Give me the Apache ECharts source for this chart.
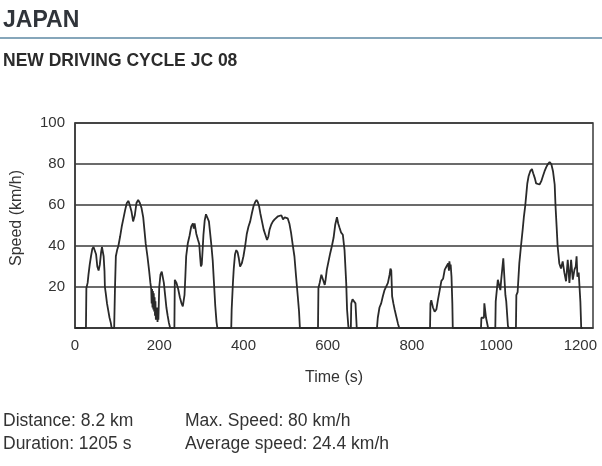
<!DOCTYPE html>
<html>
<head>
<meta charset="utf-8">
<script src="https://cdn.jsdelivr.net/npm/echarts@6/dist/echarts.min.js"></script>
<style>
  html, body { margin: 0; padding: 0; background: #fff; }
  #chart { width: 602px; height: 466px; }
</style>
</head>
<body>
<div id="chart"></div>
<script>
// JC08 speed trace (time in s, speed in km/h)
var timeS = [
  0, 26, 27, 30, 32, 35, 38, 41, 44, 47, 50, 53, 56, 59, 62, 64, 66, 68, 70, 71, 73, 76, 79, 82, 85, 87,
  93, 95, 97, 100, 103, 107, 111, 115, 119, 123, 127, 130, 134, 138, 142, 146, 150, 154, 158, 162, 165, 168, 172, 176, 179, 181,
  182, 183, 184, 185, 186, 187, 188, 189, 190, 191, 192, 193, 194, 195, 196, 197, 198, 200, 203, 206, 209, 211, 214, 217, 220, 223, 226,
  236, 237, 241, 245, 249, 253, 256, 258, 260, 262, 264, 268, 272, 276, 280, 282, 284, 288, 292, 295, 297, 299, 301, 303, 305, 308, 311, 315, 318, 321, 324, 327, 330, 333, 336, 338,
  371, 372, 375, 377, 380, 383, 386, 389, 392, 396, 400, 404, 408, 412, 416, 420, 424, 428, 431, 434, 437, 440, 444, 448, 452, 456, 459, 462, 466, 470, 474, 478, 482, 486, 490, 494, 498, 502, 505, 509, 513, 517, 521, 525, 529, 532, 534,
  577, 578, 581, 585, 589, 593, 595, 598, 602, 606, 610, 614, 618, 622, 625, 628, 632, 636, 640, 644, 646, 649, 650,
  655, 656, 659, 663, 666, 668, 669,
  717, 719, 723, 727, 731, 735, 739, 743, 747, 749, 751, 753, 756, 759, 763, 767, 770,
  843, 844, 846, 850, 854, 858, 862, 866, 870, 874, 878, 882, 886, 888, 889, 891, 892, 894, 896, 897,
  964, 965, 971, 972, 975, 976, 980, 981,
  998, 999, 1004, 1008, 1010, 1012, 1016, 1017, 1020, 1022, 1024, 1028, 1030,
  1047, 1048, 1051, 1055, 1059, 1063, 1066, 1069, 1072, 1074, 1077, 1081, 1085, 1088, 1092, 1095, 1099, 1103, 1107, 1111, 1115, 1119, 1123, 1127, 1131, 1135, 1139, 1141, 1144, 1146, 1150, 1154, 1158, 1162, 1166, 1170, 1174, 1178, 1182, 1186, 1189, 1191, 1193, 1196, 1198, 1200, 1202, 1205
];
var speedKmh = [
  0, 0, 19.5, 22, 26, 31, 35, 38.5, 39.5, 39.5, 36, 30, 28, 31, 37, 39.5, 39.5, 35, 28, 20, 17, 12, 8.5, 5, 2.5, 0,
  0, 20, 35, 38, 40, 44.5, 49.5, 53.5, 57.5, 61, 62, 60, 57, 52, 55, 61, 62.5, 61, 58.5, 54, 47.5, 41, 35, 28, 22, 19,
  12, 19, 10, 18, 9, 17, 8, 15, 6, 13, 4, 10, 4, 8, 3, 10, 4, 20, 26, 27.5, 27, 22, 16, 10, 6, 2.5, 0,
  0, 23.5, 22, 19, 15, 12, 10.5, 11, 16, 25, 35, 41.5, 45, 49.5, 51, 48.5, 51, 46, 43, 41, 35, 30, 31, 38, 45.5, 52.5, 55.5, 56, 52, 46, 40, 33, 22, 11, 3, 0,
  0, 9, 22, 29, 36, 38, 37, 34, 30, 31.5, 35, 40, 46, 49.5, 52, 56, 59.5, 61.5, 62.5, 61.5, 59.5, 56, 52, 48, 45.5, 43, 44.5, 48, 50.5, 52, 53, 53.5, 54.5, 54, 55, 53, 54, 54.5, 53.5, 51, 46.5, 40.5, 35, 25, 15.5, 8, 0,
  0, 19.5, 22, 26, 23.5, 21, 23.5, 28.5, 32.5, 36.5, 40, 44, 50.5, 54, 51, 49, 46.5, 45.5, 38, 22, 9, 1, 0,
  0, 12, 14, 14, 12, 4, 0,
  0, 5, 10, 12, 15.5, 18.5, 18, 22, 26, 29, 28, 15.5, 12, 9, 5.5, 2, 0,
  0, 12, 13.5, 10, 8, 9, 14, 18.5, 23, 24, 28.5, 30, 31.5, 28, 32.5, 29, 31, 25, 12, 0,
  0, 5, 5, 12, 12, 5, 5, 0,
  0, 13, 23.5, 23.5, 18.5, 23.5, 23.5, 34, 34, 16, 13, 1, 0,
  0, 16, 17.5, 31.5, 40, 48, 54.5, 59.5, 66, 70.5, 74, 76.5, 77.5, 75.5, 73, 70.5, 70, 70, 71.5, 74, 76.5, 78.5, 80, 81, 80, 76.5, 70, 59.5, 48, 40, 31.5, 29, 32.5, 27, 22.8, 33.3, 22, 33.3, 23.6, 28.5, 30, 35, 25, 27, 20, 13, 0, 0
];
var timeTicks = [0, 200, 400, 600, 800, 1000, 1200];
var speedTicks = [20, 40, 60, 80, 100];
var summaryLeft = ['Distance: 8.2 km', 'Duration: 1205 s'];
var summaryRight = ['Max. Speed: 80 km/h', 'Average speed: 24.4 km/h'];

var font = 'Liberation Sans, Arial, sans-serif';
var chart = echarts.init(document.getElementById('chart'));

var trace = timeS.map(function (t, i) { return [t, speedKmh[i]]; });

var option = {
  animation: false,
  backgroundColor: '#fff',
  grid: {
    left: 75, top: 123, right: 9, bottom: 138,
    show: true, borderColor: '#3a3a3a', borderWidth: 1.5
  },
  xAxis: {
    type: 'value',
    min: 0, max: 1230, interval: 200,
    axisLine: { show: true, lineStyle: { color: '#3a3a3a', width: 1.5 } },
    axisTick: { show: false },
    splitLine: { show: false },
    axisLabel: {
      margin: 10, color: '#333', fontSize: 15, fontFamily: font,
      showMaxLabel: false,
      formatter: function (v) { return timeTicks.indexOf(v) >= 0 ? String(v) : ''; }
    }
  },
  yAxis: {
    type: 'value',
    min: 0, max: 100, interval: 20,
    axisLine: { show: true, lineStyle: { color: '#3a3a3a', width: 1.5 } },
    axisTick: { show: false },
    splitLine: { show: true, lineStyle: { color: '#3a3a3a', width: 1.5 } },
    axisLabel: {
      margin: 10, color: '#333', fontSize: 15, fontFamily: font,
      formatter: function (v) { return speedTicks.indexOf(v) >= 0 ? String(v) : ''; }
    }
  },
  series: [{
    type: 'line',
    data: trace,
    showSymbol: false,
    lineStyle: { color: '#2a2a2a', width: 1.8 },
    z: 3
  }],
  graphic: [
    { type: 'text', left: 3, top: 9, style: { text: 'JAPAN', font: 'bold 23px ' + font, fill: '#30343a' } },
    { type: 'rect', shape: { x: 0, y: 37, width: 602, height: 2 }, style: { fill: '#86a6ba' } },
    { type: 'text', left: 3, top: 52, style: { text: 'NEW DRIVING CYCLE JC 08', font: 'bold 17.5px ' + font, fill: '#2b2b2b' } },
    { type: 'text', x: 17, y: 218, rotation: Math.PI / 2,
      style: { text: 'Speed (km/h)', font: '16px ' + font, fill: '#333', align: 'center', verticalAlign: 'middle' } },
    { type: 'text', x: 334, y: 378,
      style: { text: 'Time (s)', font: '16px ' + font, fill: '#333', align: 'center', verticalAlign: 'middle' } },
    { type: 'text', x: 3, y: 421, style: { text: summaryLeft[0], font: '17.5px ' + font, fill: '#333', verticalAlign: 'middle' } },
    { type: 'text', x: 3, y: 444, style: { text: summaryLeft[1], font: '17.5px ' + font, fill: '#333', verticalAlign: 'middle' } },
    { type: 'text', x: 185, y: 421, style: { text: summaryRight[0], font: '17.5px ' + font, fill: '#333', verticalAlign: 'middle' } },
    { type: 'text', x: 185, y: 444, style: { text: summaryRight[1], font: '17.5px ' + font, fill: '#333', verticalAlign: 'middle' } }
  ]
};

chart.setOption(option);
</script>
</body>
</html>
